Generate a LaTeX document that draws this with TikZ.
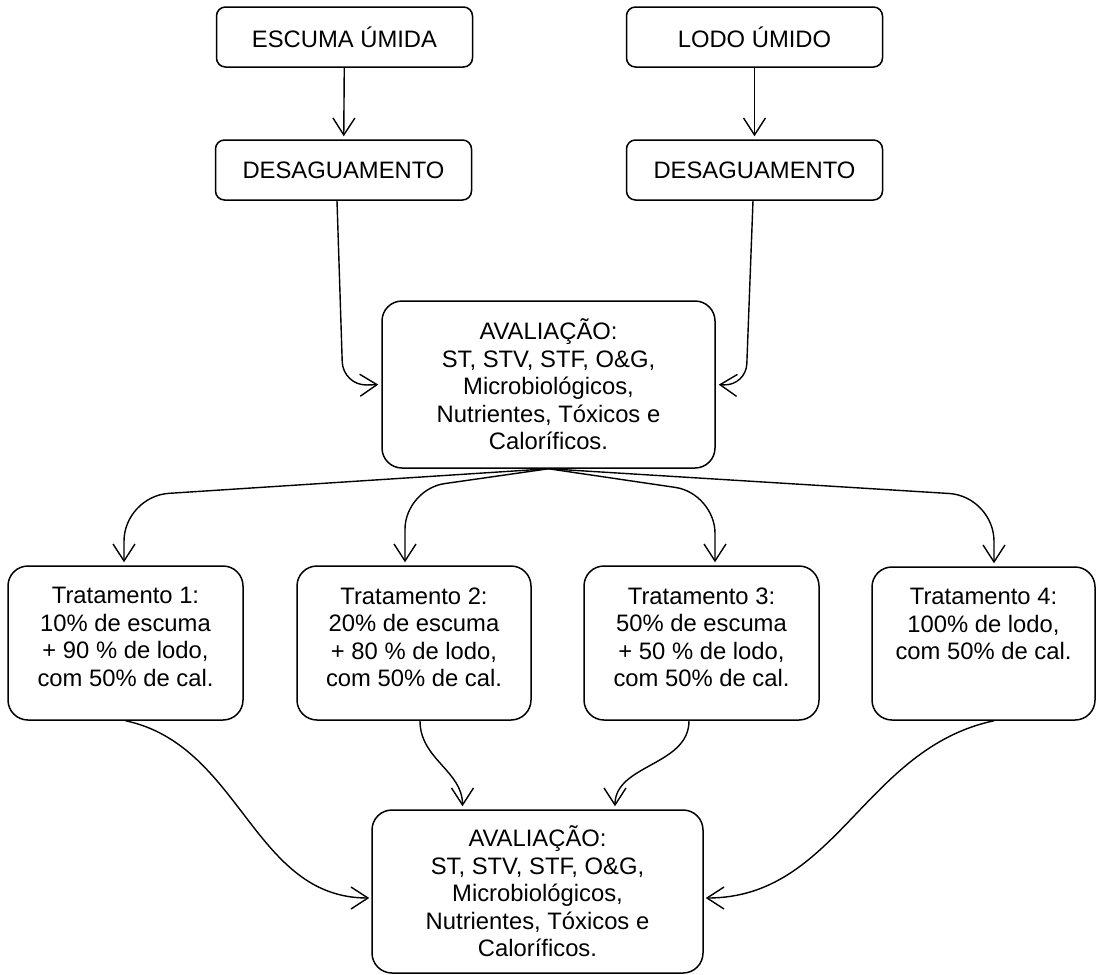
\documentclass[tikz,border=0pt]{standalone}
\usepackage{fontspec}
\setmainfont{Liberation Sans}
\usetikzlibrary{arrows.meta,positioning,calc}

\tikzset{
  box/.style={draw, line width=1.5pt, rounded corners=9pt, minimum width=256pt, minimum height=60pt, inner sep=0pt},
  evalbox/.style={draw, line width=1.5pt, rounded corners=20pt, align=center, inner sep=0pt},
  tbox/.style={draw, line width=1.5pt, rounded corners=20pt, minimum height=154pt, inner sep=0pt},
  ttext/.style={align=center, inner sep=0pt},
  arr/.style={line width=1.4pt, -{Straight Barb[length=17pt,width=22pt]}, shorten >=3pt},
}

\begin{document}
\begin{tikzpicture}[x=1pt, y=1pt, font=\fontsize{23.8pt}{27.5pt}\selectfont]
  \useasboundingbox (0,0) rectangle (1096,-975);

  % Top row: inputs and dewatering
  \node[box] (escuma) at (344.5,-37) {ESCUMA ÚMIDA};
  \node[box] (lodo) at (754.5,-37) {LODO ÚMIDO};
  \node[box] (desag1) at (343.5,-170) {DESAGUAMENTO};
  \node[box] (desag2) at (754.5,-170) {DESAGUAMENTO};

  % First evaluation
  \node[evalbox, minimum width=333pt, minimum height=167pt] (aval1) at (548.5,-384.5)
    {AVALIAÇÃO:\\ ST, STV, STF, O\&G,\\ Microbiológicos,\\ Nutrientes, Tóxicos e\\ Caloríficos.};

  % Treatments (text sits at the top of each box)
  \node[tbox, minimum width=235pt] (trat1) at (125.5,-643) {};
  \node[tbox, minimum width=234pt] (trat2) at (414,-643) {};
  \node[tbox, minimum width=235pt] (trat3) at (701.5,-643) {};
  \node[tbox, minimum width=223pt, minimum height=153pt] (trat4) at (983.5,-643.5) {};
  \node[ttext, below=22pt of trat1.north] (txt1) {Tratamento 1:\\ 10\% de escuma\\ + 90 \% de lodo,\\ com 50\% de cal.};
  \node[ttext, below=22pt of trat2.north] (txt2) {Tratamento 2:\\ 20\% de escuma\\ + 80 \% de lodo,\\ com 50\% de cal.};
  \node[ttext, below=22pt of trat3.north] (txt3) {Tratamento 3:\\ 50\% de escuma\\ + 50 \% de lodo,\\ com 50\% de cal.};
  \node[ttext, below=22pt of trat4.north] (txt4) {Tratamento 4:\\ 100\% de lodo,\\ com 50\% de cal.};

  % Final evaluation
  \node[evalbox, minimum width=331pt, minimum height=163pt] (aval2) at (537.5,-891.5)
    {AVALIAÇÃO:\\ ST, STV, STF, O\&G,\\ Microbiológicos,\\ Nutrientes, Tóxicos e\\ Caloríficos.};

  % Arrows: inputs -> dewatering -> evaluation
  \draw[arr] (escuma) -- (desag1);
  \draw[arr] (lodo) -- (desag2);
  \draw[arr, rounded corners=24pt] ($(desag1.south)+(-6.5,0)$) -- ++(6,-185) -- (aval1.west);
  \draw[arr, rounded corners=22pt] ($(desag2.south)+(-1.5,0)$) -- ++(-7,-185) -- (aval1.east);

  % Arrows: evaluation -> treatments
  \draw[arr, rounded corners=45pt] (aval1.south) -- ($(trat1.north)+(-1.5,69)$) -- ($(trat1.north)+(-1.5,0)$);
  \draw[arr, rounded corners=40pt] (aval1.south) -- ($(trat2.north)+(-9,76)$) -- ($(trat2.north)+(-9,0)$);
  \draw[arr, rounded corners=40pt] (aval1.south) -- ($(trat3.north)+(13.5,72)$) -- ($(trat3.north)+(13.5,0)$);
  \draw[arr, rounded corners=45pt] (aval1.south) -- ($(trat4.north)+(10.5,70)$) -- ($(trat4.north)+(10.5,0)$);

  % Arrows: treatments -> final evaluation
  \draw[arr, shorten >=2pt] (trat1.south) to[out=-12, in=180] ($(aval2.west)+(0,-6.5)$);
  \draw[arr] ($(trat2.south)+(6,0)$) to[out=-90, in=90] ($(aval2.north)+(-75,0)$);
  \draw[arr] ($(trat3.south)+(-12.5,0)$) to[out=-90, in=90] ($(aval2.north)+(77.5,0)$);
  \draw[arr, shorten >=2pt] ($(trat4.south)+(10.5,0)$) to[out=192, in=0] ($(aval2.east)+(0,-6.5)$);
\end{tikzpicture}
\end{document}
